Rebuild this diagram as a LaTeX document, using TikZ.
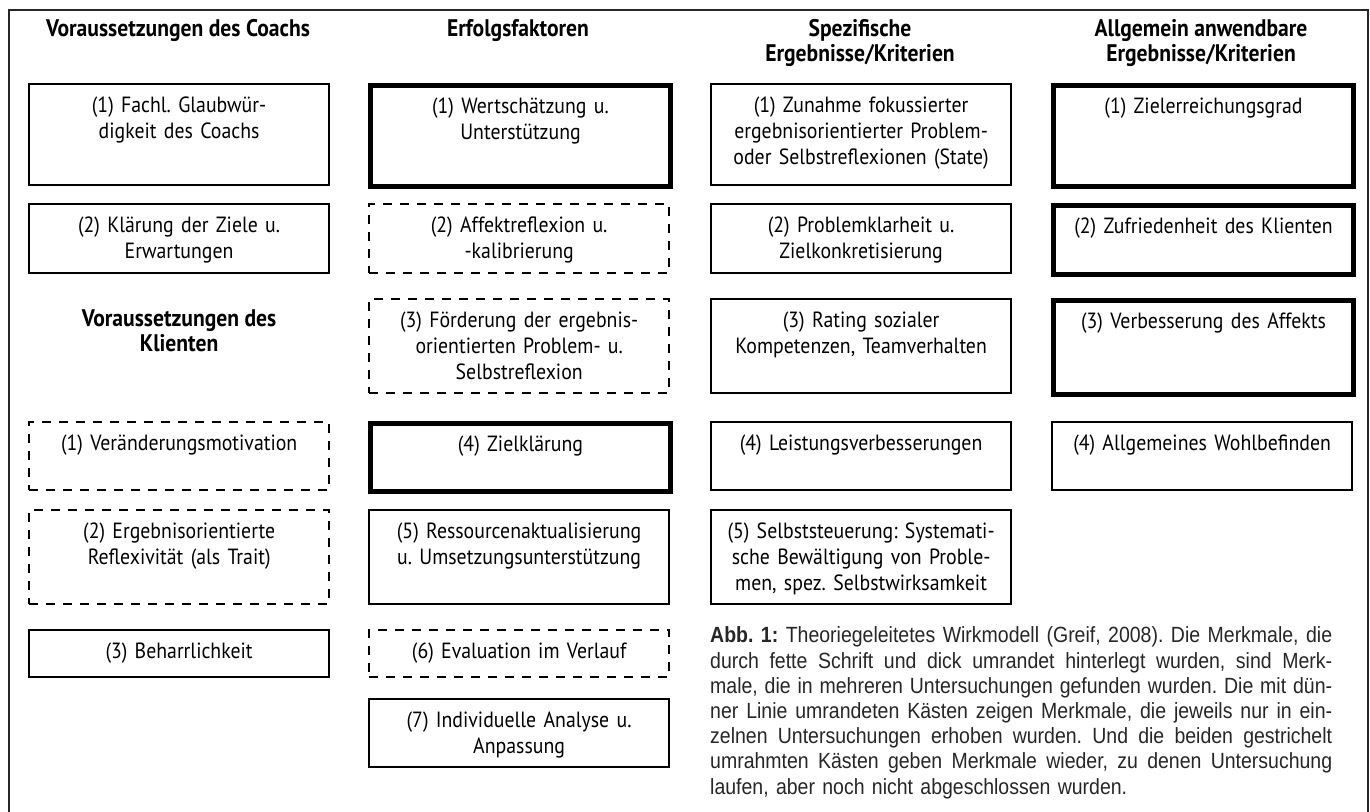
\documentclass[tikz,border=0pt]{standalone}
\usepackage{fontspec}
\setmainfont{PT Sans}[FakeStretch=0.9]
\newfontfamily\capfont{Liberation Sans}[FakeStretch=0.886]
\usepackage{tikz}
\usetikzlibrary{positioning}
\frenchspacing
\newcommand{\zeile}[1]{\hbox to 622pt{\spaceskip=\fontdimen2\font plus 1fil minus \fontdimen4\font\relax #1}}
\tikzset{
	x = 1pt,
	y = -1pt,
	feature/.style={
		draw,
		anchor=north west,
		text width=296pt,
		inner xsep=2pt,
		inner ysep=0pt,
		align=center,
		font=\fontsize{22}{26}\selectfont,
		text height=28pt,
		text depth=#1
	},
	single study/.style={
		feature=#1,
		line width=2.2pt
	},
	multi study/.style={
		feature=#1,
		line width=5pt
	},
	ongoing study/.style={
		feature=#1,
		line width=2.4pt,
		dash pattern=on 9pt off 8pt
	},
	heading/.style={
		anchor=north,
		align=center,
		inner sep=0pt,
		font=\bfseries\fontsize{24}{25}\selectfont
	},
	caption/.style={
		anchor=north west,
		inner sep=0pt,
		text width=622pt,
		align=left,
		text=black!85,
		font=\capfont\fontsize{22}{25.2}\selectfont
	},
	outer frame/.style={
		line width=2.8pt,
		draw=black!85
	}
}

\begin{document}
\begin{tikzpicture}
\useasboundingbox (0,0) rectangle (1370,811);
\draw[outer frame] (9,830) -- (9,10) -- (1368,10) -- (1368,830);

% ---
% Headings
% ---
\foreach \i/\x/\t in {1/178/{Voraussetzungen des Coachs}, 2/518/{Erfolgsfaktoren}, 3/860/{Spezifische\\Ergebnisse/Kriterien}, 4/1201/{Allgemein anwendbare\\Ergebnisse/Kriterien}} {
	\node[heading] (h\i) at (\x,19) {\strut\t};
}

% ---
% Voraussetzungen (Coach, Klient)
% ---
\node[single study=73] (c1-1) at (28,83) {(1) Fachl. Glaubwür-\\digkeit des Coachs};
\node[single study=41] (c1-2) at (28,203) {(2) Klärung der Ziele u.\\Erwartungen};
\node[heading, below=35pt of c1-2] (h1-2) {\strut Voraussetzungen des\\Klienten};
\node[ongoing study=40] (c1-3) at (28,421) {(1) Veränderungsmotivation};
\node[ongoing study=66] (c1-4) at (28,509) {(2) Ergebnisorientierte\\Reflexivität (als Trait)};
\node[single study=19] (c1-5) at (28,629) {(3) Beharrlichkeit};

% ---
% Erfolgsfaktoren
% ---
\node[multi study=73] (c2-1) at (368,83) {(1) Wertschätzung u.\\Unterstützung};
\node[ongoing study=41] (c2-2) at (368,203) {(2) Affektreflexion u.\\-kalibrierung};
\node[ongoing study=66] (c2-3) at (368,298) {(3) Förderung der ergebnis-\\orientierten Problem- u.\\Selbstreflexion};
\node[multi study=40] (c2-4) at (368,421) {(4) Zielklärung};
\node[single study=66] (c2-5) at (368,509) {(5) Ressourcenaktualisierung\\u. Umsetzungsunterstützung};
\node[ongoing study=19] (c2-6) at (368,629) {(6) Evaluation im Verlauf};
\node[single study=40] (c2-7) at (368,698) {(7) Individuelle Analyse u.\\Anpassung};

% ---
% Spezifische Ergebnisse
% ---
\node[single study=73] (c3-1) at (710,83) {(1) Zunahme fokussierter\\ergebnisorientierter Problem-\\oder Selbstreflexionen (State)};
\node[single study=41] (c3-2) at (710,203) {(2) Problemklarheit u.\\Zielkonkretisierung};
\node[single study=66] (c3-3) at (710,298) {(3) Rating sozialer\\Kompetenzen, Teamverhalten};
\node[single study=40] (c3-4) at (710,421) {(4) Leistungsverbesserungen};
\node[single study=66] (c3-5) at (710,509) {(5) Selbststeuerung: Systemati-\\sche Bewältigung von Proble-\\men, spez. Selbstwirksamkeit};

% ---
% Allgemeine Ergebnisse
% ---
\node[multi study=73] (c4-1) at (1051,83) {(1) Zielerreichungsgrad};
\node[multi study=41] (c4-2) at (1051,203) {(2) Zufriedenheit des Klienten};
\node[multi study=66] (c4-3) at (1051,298) {(3) Verbesserung des Affekts};
\node[single study=40] (c4-4) at (1051,421) {(4) Allgemeines Wohlbefinden};

% ---
% Legende
% ---
\node[caption] (abb) at (710,625) {\strut\zeile{\textbf{Abb. 1:} Theoriegeleitetes Wirkmodell (Greif, 2008). Die Merkmale, die}
\zeile{durch fette Schrift und dick umrandet hinterlegt wurden, sind Merk-}
\zeile{male, die in mehreren Untersuchungen gefunden wurden. Die mit dün-}
\zeile{ner Linie umrandeten Kästen zeigen Merkmale, die jeweils nur in ein-}
\zeile{zelnen Untersuchungen erhoben wurden. Und die beiden gestrichelt}
\zeile{umrahmten Kästen geben Merkmale wieder, zu denen Untersuchung}
laufen, aber noch nicht abgeschlossen wurden.};
\end{tikzpicture}
\end{document}
